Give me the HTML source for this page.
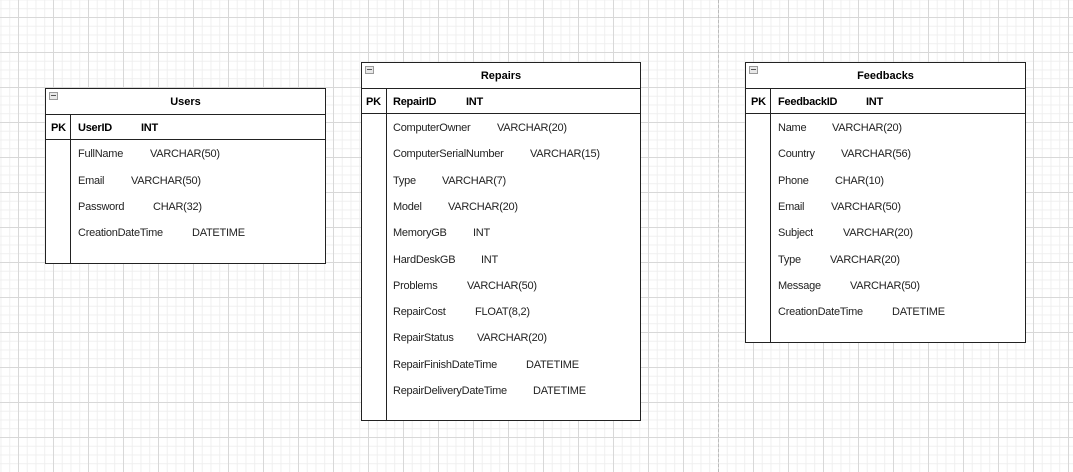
<!DOCTYPE html>
<html><head><style>
body{margin:0;width:1073px;height:472px;overflow:hidden;background:#fff;font-family:"Liberation Sans",Arial,sans-serif;position:relative}
.grid{position:absolute;inset:0;
background-image:
linear-gradient(to right,#d8d8d8 1px,transparent 1px),
linear-gradient(to bottom,#d8d8d8 1px,transparent 1px),
linear-gradient(to right,#efefef 1px,transparent 1px),
linear-gradient(to bottom,#efefef 1px,transparent 1px);
background-size:35px 35px,35px 35px,8.75px 8.75px,8.75px 8.75px;
background-position:18px 0,0 17px,18px 0,0 17px}
.dash{position:absolute;left:718px;top:0;height:472px;border-left:1px dashed #bbb}
.t{position:absolute;border:1.5px solid #222;background:#fff;box-sizing:border-box}
.h{position:absolute;left:0;right:0;top:0;height:25px;border-bottom:1.5px solid #222;font-weight:bold;font-size:11px;text-align:center;line-height:26px}
.pkr{position:absolute;left:0;right:0;top:25px;height:25px;border-bottom:1.5px solid #222}
.v{position:absolute;left:24px;top:25px;bottom:0;border-left:1.5px solid #222}
.m{position:absolute;left:3px;top:3px;width:7px;height:6px;border:1px solid #999;background:#e8e8e8}
.m:after{content:"";position:absolute;left:1px;top:2px;width:5px;height:1px;background:#555}
span{position:absolute;font-size:11px;color:#222;white-space:nowrap;line-height:13px;letter-spacing:-0.25px;margin-top:1px}
.b{font-weight:bold;color:#000}
</style></head><body>
<div class="grid"></div><div class="dash"></div>

<div class="t" style="left:45px;top:88px;width:281px;height:176px"><div class="m"></div><div class="h">Users</div><div class="pkr"></div><div class="v"></div></div>
<span class="b" style="left:51px;top:121px">PK</span>
<span class="b" style="left:78px;top:121px">UserID</span><span class="b" style="left:141px;top:121px">INT</span>
<span style="left:78px;top:147px">FullName</span><span style="left:150px;top:147px">VARCHAR(50)</span>
<span style="left:78px;top:174px">Email</span><span style="left:131px;top:174px">VARCHAR(50)</span>
<span style="left:78px;top:200px">Password</span><span style="left:153px;top:200px">CHAR(32)</span>
<span style="left:78px;top:226px">CreationDateTime</span><span style="left:192px;top:226px">DATETIME</span>

<div class="t" style="left:361px;top:62px;width:280px;height:359px"><div class="m"></div><div class="h">Repairs</div><div class="pkr"></div><div class="v"></div></div>
<span class="b" style="left:366px;top:95px">PK</span>
<span class="b" style="left:393px;top:95px">RepairID</span><span class="b" style="left:466px;top:95px">INT</span>
<span style="left:393px;top:121px">ComputerOwner</span><span style="left:497px;top:121px">VARCHAR(20)</span>
<span style="left:393px;top:147px">ComputerSerialNumber</span><span style="left:530px;top:147px">VARCHAR(15)</span>
<span style="left:393px;top:174px">Type</span><span style="left:442px;top:174px">VARCHAR(7)</span>
<span style="left:393px;top:200px">Model</span><span style="left:448px;top:200px">VARCHAR(20)</span>
<span style="left:393px;top:226px">MemoryGB</span><span style="left:473px;top:226px">INT</span>
<span style="left:393px;top:253px">HardDeskGB</span><span style="left:481px;top:253px">INT</span>
<span style="left:393px;top:279px">Problems</span><span style="left:467px;top:279px">VARCHAR(50)</span>
<span style="left:393px;top:305px">RepairCost</span><span style="left:475px;top:305px">FLOAT(8,2)</span>
<span style="left:393px;top:331px">RepairStatus</span><span style="left:477px;top:331px">VARCHAR(20)</span>
<span style="left:393px;top:358px">RepairFinishDateTime</span><span style="left:526px;top:358px">DATETIME</span>
<span style="left:393px;top:384px">RepairDeliveryDateTime</span><span style="left:533px;top:384px">DATETIME</span>

<div class="t" style="left:745px;top:62px;width:281px;height:281px"><div class="m"></div><div class="h">Feedbacks</div><div class="pkr"></div><div class="v"></div></div>
<span class="b" style="left:751px;top:95px">PK</span>
<span class="b" style="left:778px;top:95px">FeedbackID</span><span class="b" style="left:866px;top:95px">INT</span>
<span style="left:778px;top:121px">Name</span><span style="left:832px;top:121px">VARCHAR(20)</span>
<span style="left:778px;top:147px">Country</span><span style="left:841px;top:147px">VARCHAR(56)</span>
<span style="left:778px;top:174px">Phone</span><span style="left:835px;top:174px">CHAR(10)</span>
<span style="left:778px;top:200px">Email</span><span style="left:831px;top:200px">VARCHAR(50)</span>
<span style="left:778px;top:226px">Subject</span><span style="left:843px;top:226px">VARCHAR(20)</span>
<span style="left:778px;top:253px">Type</span><span style="left:830px;top:253px">VARCHAR(20)</span>
<span style="left:778px;top:279px">Message</span><span style="left:850px;top:279px">VARCHAR(50)</span>
<span style="left:778px;top:305px">CreationDateTime</span><span style="left:892px;top:305px">DATETIME</span>
</body></html>
